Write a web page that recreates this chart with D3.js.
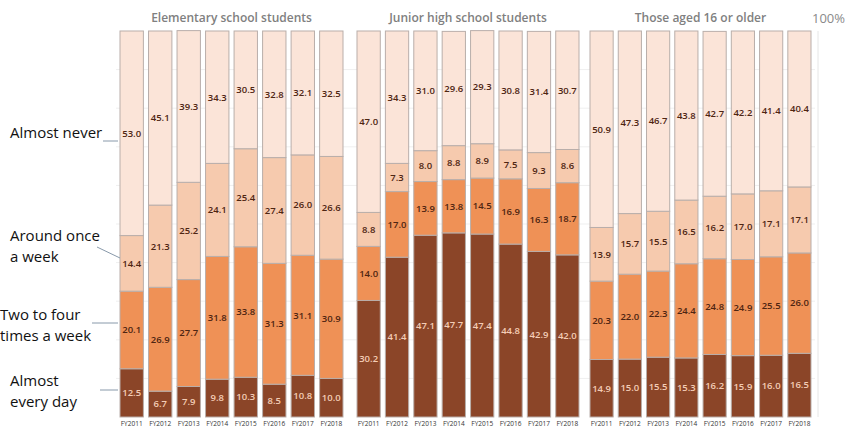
<!DOCTYPE html>
<html>
<head>
<meta charset="utf-8">
<script src="https://cdn.jsdelivr.net/npm/d3@7"></script>
<style>
  body { margin: 0; background: #fff; }
  svg { display: block; font-family: "Open Sans", "Noto Sans", sans-serif; }
</style>
</head>
<body>
<div id="chart"></div>
<script>
// Data

let years = ["FY2011", "FY2012", "FY2013", "FY2014", "FY2015", "FY2016", "FY2017", "FY2018"];
let groups = ["Elementary school students", "Junior high school students", "Those aged 16 or older"];

// stack order, bottom to top
let categories = ["Almost every day", "Two to four times a week", "Around once a week", "Almost never"];

let elementaryEveryDay = [12.5, 6.7, 7.9, 9.8, 10.3, 8.5, 10.8, 10.0];
let elementaryTwoFour  = [20.1, 26.9, 27.7, 31.8, 33.8, 31.3, 31.1, 30.9];
let elementaryOnce     = [14.4, 21.3, 25.2, 24.1, 25.4, 27.4, 26.0, 26.6];
let elementaryNever    = [53.0, 45.1, 39.3, 34.3, 30.5, 32.8, 32.1, 32.5];

let juniorEveryDay = [30.2, 41.4, 47.1, 47.7, 47.4, 44.8, 42.9, 42.0];
let juniorTwoFour  = [14.0, 17.0, 13.9, 13.8, 14.5, 16.9, 16.3, 18.7];
let juniorOnce     = [8.8, 7.3, 8.0, 8.8, 8.9, 7.5, 9.3, 8.6];
let juniorNever    = [47.0, 34.3, 31.0, 29.6, 29.3, 30.8, 31.4, 30.7];

let olderEveryDay = [14.9, 15.0, 15.5, 15.3, 16.2, 15.9, 16.0, 16.5];
let olderTwoFour  = [20.3, 22.0, 22.3, 24.4, 24.8, 24.9, 25.5, 26.0];
let olderOnce     = [13.9, 15.7, 15.5, 16.5, 16.2, 17.0, 17.1, 17.1];
let olderNever    = [50.9, 47.3, 46.7, 43.8, 42.7, 42.2, 41.4, 40.4];

let yTicks = [0, 10, 20, 30, 40, 50, 60, 70, 80, 90, 100];

// Layout / style

let width = 846;
let height = 428;
let plotTop = 31;
let plotBottom = 417;

// horizontal span of each panel
let panelRanges = [[120, 343], [357, 579], [590, 811]];

let colors = ["#8b4528", "#ef9156", "#f6caae", "#fbe4d8"];
let labelColors = ["#f4cdb6", "#4e2512", "#4e2512", "#4e2512"];
let strokeColor = "#b9aeaa";

// one list of category arrays per panel
let series = [
    [elementaryEveryDay, elementaryTwoFour, elementaryOnce, elementaryNever],
    [juniorEveryDay, juniorTwoFour, juniorOnce, juniorNever],
    [olderEveryDay, olderTwoFour, olderOnce, olderNever]
];

let y = d3.scaleLinear()
    .domain([0, 100])
    .range([plotBottom, plotTop]);

let svg = d3.select("#chart")
    .append("svg")
    .attr("width", width)
    .attr("height", height);

// faint gridlines behind everything
svg.append("g")
    .attr("class", "grid")
    .selectAll("line")
    .data(yTicks.slice(1, -1))
    .enter().append("line")
    .attr("x1", 116)
    .attr("x2", 815)
    .attr("y1", d => y(d))
    .attr("y2", d => y(d))
    .style("stroke", "#efefef")
    .style("stroke-width", 1);

svg.append("line")
    .attr("x1", 818).attr("x2", 818)
    .attr("y1", plotTop).attr("y2", plotBottom)
    .style("stroke", "#e6e6e6");

let stack = d3.stack()
    .keys(d3.range(categories.length));

groups.forEach((group, g) => {

    // build a row per bar from the arrays
    let rows = years.map((year, i) => {
        let row = { year: year };
        series[g].forEach((values, k) => { row[k] = values[i]; });
        return row;
    });

    let x = d3.scaleBand()
        .domain(years)
        .range(panelRanges[g])
        .paddingInner(0.18)
        .paddingOuter(0);

    let panel = svg.append("g")
        .attr("class", "panel");

    let layers = panel.selectAll(".layer")
        .data(stack(rows))
        .enter().append("g")
        .attr("class", "layer");

    layers.each(function(layer) {
        d3.select(this).selectAll("rect")
            .data(layer)
            .enter().append("rect")
            .attr("x", d => x(d.data.year))
            .attr("y", d => y(d[1]))
            .attr("width", x.bandwidth())
            .attr("height", d => y(d[0]) - y(d[1]))
            .style("fill", colors[layer.key])
            .style("stroke", strokeColor)
            .style("stroke-width", 1);
    });

    // value labels in the middle of each segment (drawn over all rects)
    layers.each(function(layer) {
        d3.select(this.parentNode).append("g")
            .selectAll("text")
            .data(layer)
            .enter().append("text")
            .attr("x", d => x(d.data.year) + x.bandwidth() / 2)
            .attr("y", d => (y(d[0]) + y(d[1])) / 2)
            .attr("dy", "0.35em")
            .attr("text-anchor", "middle")
            .style("font-size", "9.5px")
            .style("font-weight", "600")
            .style("fill", labelColors[layer.key])
            .text(d => d3.format(".1f")(d[1] - d[0]));
    });

    // panel title
    panel.append("text")
        .attr("x", (panelRanges[g][0] + panelRanges[g][1]) / 2)
        .attr("y", 18)
        .attr("dy", "0.35em")
        .attr("text-anchor", "middle")
        .style("font-size", "12px")
        .style("font-weight", "600")
        .style("fill", "#808080")
        .text(group);

    // year axis
    let axis = panel.append("g")
        .attr("transform", `translate(0, ${plotBottom})`)
        .call(d3.axisBottom(x).tickSize(0).tickPadding(4));
    axis.select(".domain").remove();
    axis.selectAll("text")
        .style("font-size", "6.5px")
        .style("fill", "#333")
        .style("font-family", "'Open Sans', sans-serif");
});

svg.append("text")
    .attr("x", 845)
    .attr("y", 18)
    .attr("dy", "0.35em")
    .attr("text-anchor", "end")
    .style("font-size", "13px")
    .style("fill", "#8a8a8a")
    .text("100%");

// Category labels on the left with short leader lines

let legendLines = [
    ["Almost never"],
    ["Around once", "a week"],
    ["Two to four", "times a week"],
    ["Almost", "every day"]
];
let legendTextX = [10, 10, 0, 10];
let legendTextY = [133, 236, 315, 381];
let legendLeader = [
    [[103, 141], [118, 141]],
    [[97, 247], [120, 258]],
    [[92, 323], [118, 323]],
    [[100, 390], [118, 390]]
];

let legend = svg.append("g").attr("class", "legend");

legend.selectAll("text")
    .data(legendLines)
    .enter().append("text")
    .attr("x", (d, i) => legendTextX[i])
    .attr("y", (d, i) => legendTextY[i])
    .style("font-size", "15px")
    .style("fill", "#111")
    .each(function(d, i) {
        d3.select(this).selectAll("tspan")
            .data(d)
            .enter().append("tspan")
            .attr("x", legendTextX[i])
            .attr("dy", (t, j) => j === 0 ? "0.35em" : "1.35em")
            .text(t => t);
    });

legend.selectAll("line")
    .data(legendLeader)
    .enter().append("line")
    .attr("x1", d => d[0][0])
    .attr("y1", d => d[0][1])
    .attr("x2", d => d[1][0])
    .attr("y2", d => d[1][1])
    .style("stroke", "#8899aa")
    .style("stroke-width", 1);
</script>
</body>
</html>
